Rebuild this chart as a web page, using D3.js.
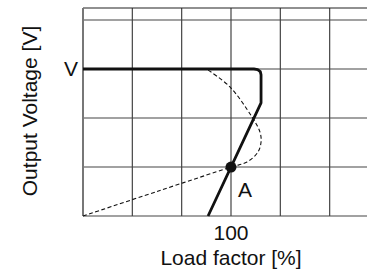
<!DOCTYPE html>
<html>
<head>
<meta charset="utf-8">
<script src="https://cdn.jsdelivr.net/npm/d3@7"></script>
<style>
  html, body { margin: 0; padding: 0; background: #fff; }
  text { font-family: "Liberation Sans", Arial, Helvetica, sans-serif; fill: #111; }
</style>
</head>
<body>
<div id="chart"></div>
<script>
// load factor [%] vs output voltage [% of rated V]
const gridX = [0, 100 / 3, 200 / 3, 100, 400 / 3, 500 / 3];
const gridY = [0, 100 / 3, 200 / 3, 100, 400 / 3];
const xTicks = [100];
const yTicks = [{ value: 100, label: 'V' }];

// constant-voltage / current-limit characteristic (solid)
const droopLoad = [0, 115.5, 118, 119.8, 120.3, 120.3, 84.5];
const droopVolt = [100, 100, 99.6, 98.2, 96, 77, 0];

// load line (dashed)
const loadLoad = [0, 50, 100, 110.8, 118.2, 120.3, 119.6, 114.2, 99.3, 84.5];
const loadVolt = [0, 16.7, 33.3, 36.7, 43.5, 50.3, 57.1, 67.3, 87.8, 99.3];

const pointA = { load: 100, volt: 33.3, label: 'A' };

function renderChart() {
    const width = 367;
    const height = 272;
    const left = 83, bottom = 216, top = 8;

    const svg = d3.select('#chart').append('svg')
        .attr('width', width)
        .attr('height', height);

    const x = d3.scaleLinear().domain([0, 100]).range([left, 231]);
    const y = d3.scaleLinear().domain([0, 100]).range([bottom, 69]);

    const grid = svg.append('g').attr('stroke', '#444').attr('stroke-width', 1.2);

    grid.selectAll('line.v')
        .data(gridX)
        .enter()
        .append('line')
        .attr('x1', d => x(d)).attr('x2', d => x(d))
        .attr('y1', top).attr('y2', bottom);

    grid.selectAll('line.h')
        .data(gridY)
        .enter()
        .append('line')
        .attr('x1', left).attr('x2', width)
        .attr('y1', d => y(d)).attr('y2', d => y(d));

    // top frame
    grid.append('line')
        .attr('x1', left).attr('x2', width)
        .attr('y1', top).attr('y2', top)
        .attr('stroke', '#222');

    // left axis
    grid.append('line')
        .attr('x1', left).attr('x2', left)
        .attr('y1', top).attr('y2', bottom)
        .attr('stroke', '#777').attr('stroke-width', 2);

    const line = d3.line().x(d => x(d[0])).y(d => y(d[1]));

    svg.append('path')
        .datum(d3.zip(loadLoad, loadVolt))
        .attr('d', line.curve(d3.curveCatmullRom.alpha(0.5)))
        .attr('fill', 'none')
        .attr('stroke', '#111')
        .attr('stroke-width', 1.1)
        .attr('stroke-dasharray', '4,2.5');

    svg.append('path')
        .datum(d3.zip(droopLoad, droopVolt))
        .attr('d', line.curve(d3.curveLinear))
        .attr('fill', 'none')
        .attr('stroke', '#111')
        .attr('stroke-width', 2.8)
        .attr('stroke-linejoin', 'round');

    svg.append('circle')
        .attr('cx', x(pointA.load))
        .attr('cy', y(pointA.volt))
        .attr('r', 5.5)
        .attr('fill', '#111');

    svg.append('text')
        .attr('x', x(pointA.load) + 7)
        .attr('y', y(pointA.volt) + 30)
        .attr('font-size', 21)
        .text(pointA.label);

    svg.selectAll('text.xt')
        .data(xTicks)
        .enter()
        .append('text')
        .attr('x', d => x(d))
        .attr('y', 240)
        .attr('text-anchor', 'middle')
        .attr('font-size', 21)
        .text(d => d);

    svg.selectAll('text.yt')
        .data(yTicks)
        .enter()
        .append('text')
        .attr('x', 78)
        .attr('y', d => y(d.value))
        .attr('dy', '0.35em')
        .attr('text-anchor', 'end')
        .attr('font-size', 21)
        .text(d => d.label);

    svg.append('text')
        .attr('x', 231)
        .attr('y', 265)
        .attr('text-anchor', 'middle')
        .attr('font-size', 21)
        .text('Load factor [%]');

    svg.append('text')
        .attr('transform', 'translate(37,111) rotate(-90)')
        .attr('text-anchor', 'middle')
        .attr('font-size', 21)
        .text('Output Voltage [V]');
}

renderChart();
</script>
</body>
</html>
